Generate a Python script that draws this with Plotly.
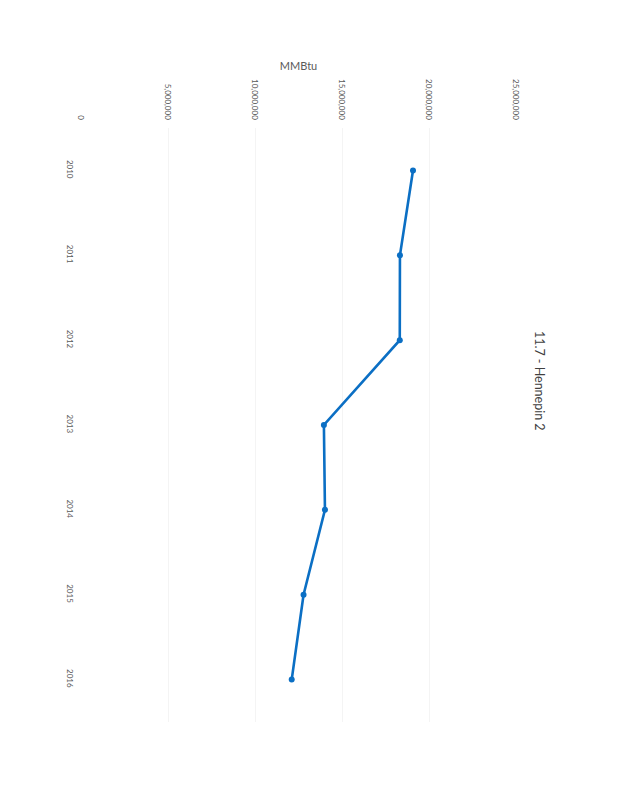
import plotly.graph_objects as go

years = [2010, 2011, 2012, 2013, 2014, 2015, 2016]
mmbtu = [19080000, 18330000, 18320000, 13960000, 14020000, 12790000, 12110000]
value_ticks = [0, 5000000, 10000000, 15000000, 20000000, 25000000]
value_tick_labels = ["0", "5,000,000", "10,000,000", "15,000,000", "20,000,000", "25,000,000"]
title_text = "11.7 - Hennepin 2"
axis_title = "MMBtu"

fig = go.Figure()
fig.add_trace(go.Scatter(
    x=mmbtu, y=years, mode="lines+markers",
    line=dict(color="#0B6FC4", width=2.6),
    marker=dict(color="#0B6FC4", size=6),
    showlegend=False,
))

fig.update_layout(
    width=618, height=800,
    margin=dict(l=73, r=110, t=120, b=86),
    paper_bgcolor="white", plot_bgcolor="white",
    font=dict(family="Lato, Open Sans, sans-serif", color="#595959"),
    xaxis=dict(
        side="top", range=[0, 25000000],
        tickvals=value_ticks, ticktext=value_tick_labels,
        tickangle=90, tickfont=dict(size=8, color="#595959"),
        showgrid=True, gridcolor="#F4F4F4", gridwidth=1,
        zeroline=False, showline=False, ticks="",
        ticklabelstandoff=6,
        title=dict(text=axis_title, font=dict(size=11, color="#595959"), standoff=6),
    ),
    yaxis=dict(
        range=[2016.5, 2009.5],
        tickvals=years, ticktext=[str(y) for y in years],
        tickangle=90, tickfont=dict(size=8, color="#595959"),
        showgrid=False, zeroline=False, showline=False, ticks="",
        ticklabelstandoff=5,
    ),
    annotations=[dict(
        text=title_text, xref="paper", yref="paper",
        x=1.0, y=0.575, xanchor="left", yanchor="middle",
        xshift=14, showarrow=False, textangle=90,
        font=dict(size=12.5, color="#404040"),
    )],
)

fig.write_html("out.html")
